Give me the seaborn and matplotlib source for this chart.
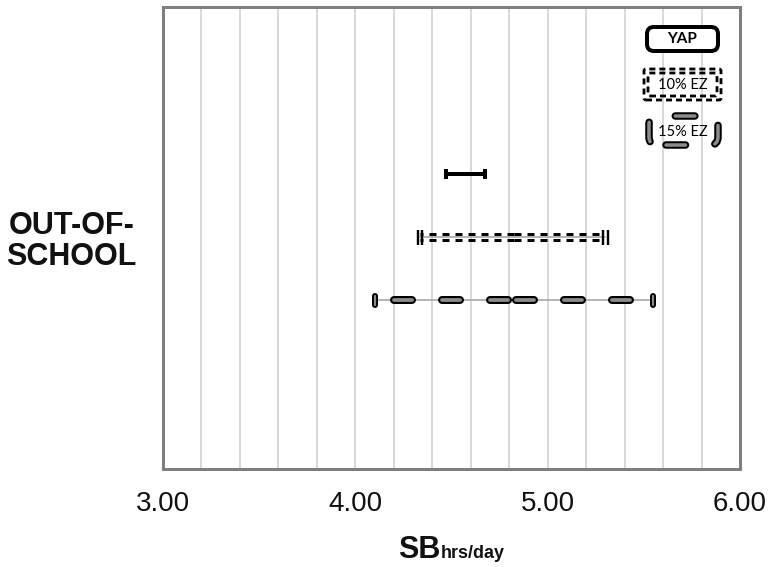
import numpy as np
import pandas as pd
import seaborn as sns
import matplotlib.pyplot as plt
from matplotlib.markers import MarkerStyle
from matplotlib.patches import FancyBboxPatch
from matplotlib.ticker import FuncFormatter

# confidence intervals for sedentary behaviour out of school (hrs/day)
groups = ["YAP", "10% EZ", "15% EZ"]
means = [4.57, 4.825, 4.817]
lows = [4.47, 4.335, 4.10]
highs = [4.673, 5.30, 5.55]
category = "OUT-OF-\nSCHOOL"
xticks = [3.0, 4.0, 5.0, 6.0]

sns.set_theme(style="white")
plt.rcParams["font.family"] = ["Liberation Sans", "DejaVu Sans"]
plt.rcParams["lines.scale_dashes"] = False

PX = 0.72  # points per pixel at dpi 100

fig = plt.figure(figsize=(7.71, 5.67), dpi=100)
ax = fig.add_axes([163 / 771, (567 - 469) / 567, 577 / 771, 462 / 567])
ax.set_xlim(3, 6)
ax.set_ylim(3.68, -3.65)
rows = [-1, 0, 1]

# pixel -> data helpers
xpx = 3 / 577
ypx = (3.68 + 3.65) / 462

df = pd.DataFrame({"group": groups, "row": rows, "lo": lows, "mean": means, "hi": highs})

# YAP: solid thick bar with small caps
r = df.iloc[0]
sns.lineplot(x=[r.lo, r.hi], y=[r.row, r.row], ax=ax, color="black", lw=4 * PX,
             solid_capstyle="butt", estimator=None, sort=False)
ax.plot([r.lo, r.hi], [r.row, r.row], ls="none", marker="|", ms=10 * PX,
        mew=4 * PX, mec="black")

# 10% EZ: thin grey line, double dashed overlay, double caps
r = df.iloc[1]
sns.lineplot(x=[r.lo, r.hi], y=[r.row, r.row], ax=ax, color="#a6a6a6", lw=1.6 * PX,
             estimator=None, sort=False)
for dy in (-2.6, 2.6):
    for end in (r.lo, r.hi):
        sns.lineplot(x=[r["mean"], end], y=[r.row + dy * ypx] * 2, ax=ax,
                     color="black", lw=3 * PX, estimator=None, sort=False,
                     linestyle=(0, (7 * PX, 6 * PX)), dash_capstyle="butt")
for end in (r.lo, r.hi):
    ax.plot([end - 2.2 * xpx, end + 2.2 * xpx], [r.row, r.row], ls="none",
            marker="|", ms=15 * PX, mew=2.4 * PX, mec="black")

# 15% EZ: thin grey line, rounded outlined dashes, capsule caps
r = df.iloc[2]
sns.lineplot(x=[r.lo, r.hi], y=[r.row, r.row], ax=ax, color="#a6a6a6", lw=1.6 * PX,
             estimator=None, sort=False)
for end in (r.lo, r.hi):
    for col, w in (("black", 8), ("#8c8c8c", 3.8)):
        sns.lineplot(x=[r["mean"], end], y=[r.row, r.row], ax=ax, color=col,
                     lw=w * PX, estimator=None, sort=False,
                     linestyle=(44 * PX, (18 * PX, 30 * PX)), dash_capstyle="round")
for col, w in (("black", 6), ("#8c8c8c", 2.2)):
    ax.plot([r.lo, r.hi], [r.row, r.row], ls="none",
            marker=MarkerStyle("|", capstyle="round"), ms=9 * PX, mew=w * PX, mec=col)

# axes styling
ax.set_xticks(np.arange(3.0, 6.01, 0.2))
ax.xaxis.set_major_formatter(FuncFormatter(
    lambda v, p: f"{v:.2f}" if any(abs(v - t) < 1e-6 for t in xticks) else ""))
ax.grid(axis="x", color="#d9d9d9", lw=2 * PX)
ax.grid(axis="y", visible=False)
ax.set_yticks([0])
ax.set_yticklabels([category], fontsize=22, fontweight="bold", multialignment="center",
                   linespacing=1.05)
ax.tick_params(axis="x", length=0, pad=16, labelsize=20, labelcolor="#111111")
ax.tick_params(axis="y", length=0, pad=19, labelcolor="#111111")
for s in ax.spines.values():
    s.set_color("#7f7f7f")
    s.set_linewidth(3 * PX)

# x label: SB with small "hrs/day" on the same baseline
fig.text(440 / 771, (567 - 558) / 567, "SB", ha="right", va="baseline",
         fontsize=22, fontweight="bold", color="#111111")
fig.text(441 / 771, (567 - 558) / 567, "hrs/day", ha="left", va="baseline",
         fontsize=13, fontweight="bold", color="#111111")

# legend boxes (drawn in inches from figure corner)
tr = fig.dpi_scale_trans
leg_font = ["Lato", "DejaVu Sans"]
yap = FancyBboxPatch((6.47, 5.16), 0.71, 0.24, boxstyle="round,pad=0,rounding_size=0.07",
                     transform=tr, fc="white", ec="black", lw=4 * PX)
fig.patches.append(yap)
fig.text(6.825 / 7.71, 5.28 / 5.67, "YAP", ha="center", va="center", fontsize=11,
         fontweight="bold", family=leg_font, color="black")

for x0, y0, w, h in ((6.44, 4.67, 0.77, 0.31), (6.48, 4.71, 0.69, 0.23)):
    fig.patches.append(FancyBboxPatch((x0, y0), w, h, boxstyle="round,pad=0,rounding_size=0.02",
                                      transform=tr, fc="none", ec="black", lw=2.8 * PX,
                                      linestyle=(0, (6 * PX, 4 * PX))))
fig.text(6.825 / 7.71, 4.82 / 5.67, "10% EZ", ha="center", va="center", fontsize=10.5,
         family=leg_font, color="black")

for col, w in (("black", 7.5), ("#8c8c8c", 3.5)):
    fig.patches.append(FancyBboxPatch((6.49, 4.22), 0.69, 0.29,
                                      boxstyle="round,pad=0,rounding_size=0.08",
                                      transform=tr, fc="none", ec=col, lw=w * PX,
                                      linestyle=(40 * PX, (19.5 * PX, 29.5 * PX)),
                                      capstyle="round"))
fig.text(6.825 / 7.71, 4.35 / 5.67, "15% EZ", ha="center", va="center", fontsize=10.5,
         family=leg_font, color="black")

fig.savefig("out.png", dpi=100)
